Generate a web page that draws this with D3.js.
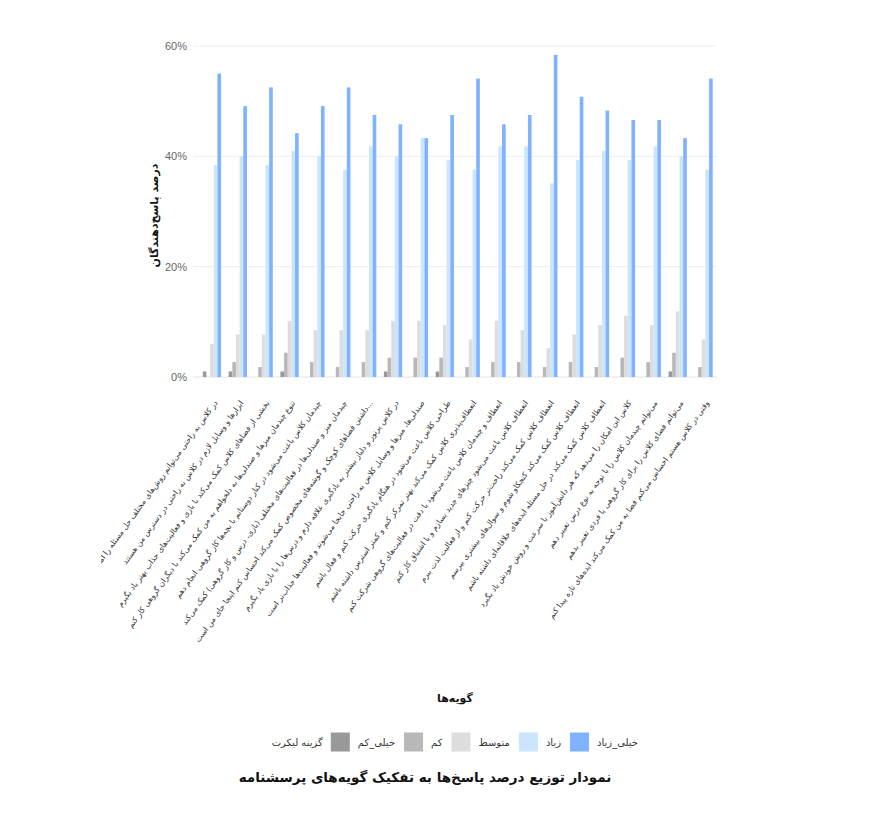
<!DOCTYPE html>
<html>
<head>
<meta charset="utf-8">
<script src="https://cdn.jsdelivr.net/npm/d3@7"></script>
<style>
  body { margin: 0; background: #fff; }
  svg { display: block; font-family: "Liberation Sans", Arial, sans-serif; }
</style>
</head>
<body>
<div id="chart"></div>
<script>
// گویه‌ها
var questions = [
  "در کلاس به راحتی می‌توانم روش‌های مختلف حل مسئله را امتحان کنم",
  "ابزارها و وسایل لازم در کلاس به راحتی در دسترس من هستند",
  "بخشی از فضاهای کلاس کمک می‌کند با بازی و فعالیت‌های جذاب بهتر یاد بگیرم",
  "تنوع چیدمان میزها و صندلی‌ها به دلخواهم به من کمک می‌کند با دیگران گروهی کار کنم",
  "چیدمان کلاس باعث می‌شود در کنار دوستانم با بچه‌ها کار گروهی انجام دهم",
  "چیدمان میز و صندلی‌ها در فعالیت‌های مختلف (بازی، درس و کار گروهی) کمک می‌کند",
  "داشتن فضاهای کوچک و گوشه‌های مخصوص کمک می‌کند احساس کنم اینجا جای من است...",
  "در کلاس پرنور و دلباز بیشتر به یادگیری علاقه دارم و درس‌ها را با بازی یاد بگیرم",
  "صندلی‌ها، میزها و وسایل کلاس به راحتی جابجا می‌شوند و فعالیت‌ها جذاب‌تر است",
  "طراحی کلاس باعث می‌شود در هنگام یادگیری حرکت کنم و فعال باشم",
  "انعطاف‌پذیری کلاس کمک می‌کند بهتر تمرکز کنم و کمتر استرس داشته باشم",
  "انعطاف و چیدمان کلاس باعث می‌شود با دقت در فعالیت‌های گروهی شرکت کنم",
  "انعطاف کلاس باعث می‌شود چیزهای جدید بسازم و با اشتیاق کار کنم",
  "انعطاف کلاس کمک می‌کند راحت‌تر حرکت کنم و از فعالیت لذت ببرم",
  "انعطاف کلاس کمک می‌کند کنجکاو شوم و سوال‌های بیشتری بپرسم",
  "انعطاف کلاس کمک می‌کند در حل مسئله ایده‌های خلاقانه‌ای داشته باشم",
  "کلاس این امکان را می‌دهد که هر دانش‌آموز با سرعت و روش خودش یاد بگیرد",
  "می‌توانم چیدمان کلاس را با توجه به نوع درس تغییر دهم",
  "می‌توانم فضای کلاس را برای کار گروهی یا فردی تغییر بدهم",
  "وقتی در کلاس هستم احساس می‌کنم فضا به من کمک می‌کند ایده‌های تازه پیدا کنم"
];

// درصد پاسخ‌ها برای هر گزینه لیکرت
var veryLow  = [1.0, 1.0, 0, 1.0, 0, 0, 0, 1.0, 0, 1.0, 0, 0, 0, 0, 0, 0, 0, 0, 1.0, 0];
var low      = [0, 2.7, 1.8, 4.4, 2.7, 1.8, 2.7, 3.5, 3.5, 3.5, 1.8, 2.7, 2.7, 1.8, 2.7, 1.8, 3.5, 2.7, 4.4, 1.8];
var medium   = [6.0, 7.7, 7.7, 10.2, 8.5, 8.5, 8.5, 10.2, 10.2, 9.4, 6.8, 10.2, 8.5, 5.2, 7.7, 9.4, 11.1, 9.4, 11.9, 6.8];
var high     = [38.4, 40.0, 38.4, 41.0, 40.0, 37.6, 41.8, 40.0, 43.3, 39.3, 37.6, 41.8, 41.8, 35.1, 39.3, 41.0, 39.3, 41.8, 40.0, 37.6];
var veryHigh = [55.0, 49.1, 52.5, 44.2, 49.1, 52.5, 47.5, 45.8, 43.3, 47.5, 54.1, 45.8, 47.5, 58.4, 50.8, 48.3, 46.6, 46.6, 43.3, 54.1];

var likertKeys = ["خیلی_کم", "کم", "متوسط", "زیاد", "خیلی_زیاد"];
var likertColors = ["#999999", "#b8b8b8", "#dddddd", "#cce5ff", "#80b3ff"];
var yTicks = [0, 20, 40, 60];

var seriesByKey = {
  "خیلی_کم": veryLow,
  "کم": low,
  "متوسط": medium,
  "زیاد": high,
  "خیلی_زیاد": veryHigh
};

var width = 880, height = 823;
var plot = { left: 193, right: 717, top: 46, bottom: 377 };

var svg = d3.select("#chart").append("svg")
    .attr("width", width)
    .attr("height", height);

svg.append("rect").attr("width", width).attr("height", height).attr("fill", "#fff");

var x0 = d3.scaleBand()
    .domain(d3.range(questions.length))
    .range([199, 716.5])
    .paddingInner(0.293)
    .paddingOuter(0.146);

var x1 = d3.scaleBand()
    .domain(likertKeys)
    .range([0, x0.bandwidth()]);

var y = d3.scaleLinear()
    .domain([0, 60])
    .range([plot.bottom, plot.top]);

var color = d3.scaleOrdinal().domain(likertKeys).range(likertColors);

// grid
svg.append("g")
    .selectAll("line")
    .data(yTicks)
    .join("line")
    .attr("x1", plot.left)
    .attr("x2", plot.right)
    .attr("y1", function(d) { return y(d); })
    .attr("y2", function(d) { return y(d); })
    .attr("stroke", function(d) { return d === 0 ? "#e3e3e3" : "#ededed"; })
    .attr("stroke-width", 1);

// y axis
var yAxis = svg.append("g")
    .attr("transform", "translate(" + plot.left + ",0)")
    .call(d3.axisLeft(y).tickValues(yTicks).tickSize(0).tickPadding(6)
        .tickFormat(function(d) { return d + "%"; }));
yAxis.select(".domain").remove();
yAxis.selectAll("text")
    .attr("font-family", "'Liberation Sans', Arial, sans-serif")
    .attr("font-size", 11)
    .attr("fill", "#666");

// bars
var rows = questions.map(function(q, i) {
  return likertKeys.map(function(k) { return { q: i, key: k, value: seriesByKey[k][i] }; });
});

svg.append("g")
    .selectAll("g")
    .data(rows)
    .join("g")
    .attr("transform", function(d, i) { return "translate(" + x0(i) + ",0)"; })
    .selectAll("rect")
    .data(function(d) { return d.filter(function(e) { return e.value > 0; }); })
    .join("rect")
    .attr("x", function(d) { return x1(d.key); })
    .attr("width", x1.bandwidth())
    .attr("y", function(d) { return y(d.value); })
    .attr("height", function(d) { return y(0) - y(d.value); })
    .attr("fill", function(d) { return color(d.key); });

// x labels (rotated)
svg.append("clipPath").attr("id", "labelClip")
  .append("rect").attr("x", 101).attr("y", 380).attr("width", 760).attr("height", 320);

svg.append("g")
    .attr("clip-path", "url(#labelClip)")
    .selectAll("text")
    .data(questions)
    .join("text")
    .attr("transform", function(d, i) {
      return "translate(" + (x0(i) + x0.bandwidth() / 2 + 6) + ",403) rotate(-54)";
    })
    .attr("text-anchor", "end")
    .attr("font-family", "'DejaVu Sans', sans-serif")
    .attr("font-size", 7.8)
    .attr("fill", "#333")
    .text(function(d) { return d; });

// axis titles
svg.append("text")
    .attr("transform", "translate(158," + ((plot.top + plot.bottom) / 2 + 4) + ") rotate(-90)")
    .attr("text-anchor", "middle")
    .attr("font-family", "'DejaVu Sans', sans-serif")
    .attr("font-size", 11)
    .attr("font-weight", "bold")
    .attr("fill", "#111")
    .text("درصد پاسخ‌دهندگان");

svg.append("text")
    .attr("x", 455)
    .attr("y", 702)
    .attr("text-anchor", "middle")
    .attr("font-family", "'DejaVu Sans', sans-serif")
    .attr("font-size", 11)
    .attr("font-weight", "bold")
    .attr("fill", "#111")
    .text("گویه‌ها");

// legend, laid out right to left
var legend = svg.append("g").attr("transform", "translate(0,742)");
var cursor = 638;
likertKeys.slice().reverse().forEach(function(k) {
  var t = legend.append("text")
      .attr("x", cursor)
      .attr("y", 4)
      .attr("text-anchor", "end")
      .attr("font-family", "'DejaVu Sans', sans-serif")
      .attr("font-size", 10)
      .attr("fill", "#333")
      .text(k);
  var w = t.node().getComputedTextLength();
  cursor = cursor - w - 8;
  legend.append("rect")
      .attr("x", cursor - 19)
      .attr("y", -9.5)
      .attr("width", 19)
      .attr("height", 19)
      .attr("fill", color(k));
  cursor = cursor - 19 - 9;
});
legend.append("text")
    .attr("x", cursor + 1)
    .attr("y", 4)
    .attr("text-anchor", "end")
    .attr("font-family", "'DejaVu Sans', sans-serif")
    .attr("font-size", 10)
    .attr("fill", "#333")
    .text("گزینه لیکرت");

// title
svg.append("text")
    .attr("x", 425)
    .attr("y", 782)
    .attr("text-anchor", "middle")
    .attr("font-family", "'DejaVu Sans', sans-serif")
    .attr("font-size", 13.5)
    .attr("font-weight", "bold")
    .attr("fill", "#111")
    .text("نمودار توزیع درصد پاسخ‌ها به تفکیک گویه‌های پرسشنامه");
</script>
</body>
</html>
